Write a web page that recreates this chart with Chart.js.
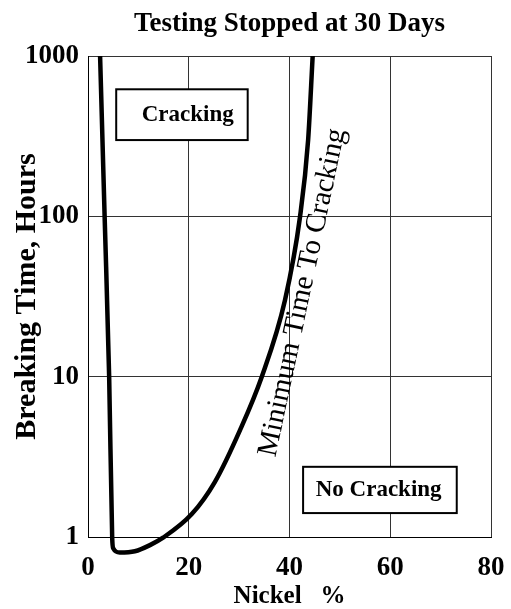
<!DOCTYPE html>
<html>
<head>
<meta charset="utf-8">
<script src="https://cdn.jsdelivr.net/npm/chart.js@4"></script>
<style>
  html, body { margin: 0; padding: 0; background: #fff; }
  #wrap { width: 511px; height: 609px; }
</style>
</head>
<body>
<div id="wrap"><canvas id="chart" width="511" height="609"></canvas></div>
<script>
// curve: nickel % vs breaking time (hours)
const nickel = [2.4, 3.3, 4.2, 4.8, 5.0, 6.3, 9.3, 12.3, 14.9, 20.6, 25.2, 30.2, 34.5, 39.1, 42.1, 43.7, 44.6];
const hours = [1000, 100, 10, 1.0, 0.85, 0.8, 0.815, 0.89, 0.99, 1.39, 2.21, 4.66, 10, 30, 100, 300, 1000];
const xTicks = [0, 20, 40, 60, 80];
const yTicks = [1, 10, 100, 1000];

const serif = "'Liberation Serif', 'Times New Roman', serif";

// text boxes / curve label drawn on top, placed in data units
const annotations = {
  id: 'annotations',
  afterDatasetsDraw(chart) {
    const { ctx, scales: { x, y } } = chart;
    ctx.save();
    ctx.strokeStyle = '#000';
    ctx.fillStyle = '#000';
    ctx.lineWidth = 2;

    function box(x0, x1, y0, y1, label, tx, ty) {
      const left = x.getPixelForValue(x0), right = x.getPixelForValue(x1);
      const top = y.getPixelForValue(y0), bottom = y.getPixelForValue(y1);
      ctx.fillStyle = '#fff';
      ctx.fillRect(left, top, right - left, bottom - top);
      ctx.strokeRect(left, top, right - left, bottom - top);
      ctx.fillStyle = '#000';
      ctx.font = 'bold 23px ' + serif;
      ctx.textAlign = 'center';
      ctx.textBaseline = 'middle';
      ctx.fillText(label, x.getPixelForValue(tx), y.getPixelForValue(ty));
    }
    box(5.6, 31.7, 620, 299, 'Cracking', 19.8, 427);
    box(42.7, 73.2, 2.74, 1.41, 'No Cracking', 57.7, 1.97);

    ctx.translate(x.getPixelForValue(42.6), y.getPixelForValue(33.5));
    ctx.rotate(-78 * Math.PI / 180);
    ctx.font = '29px ' + serif;
    ctx.textAlign = 'center';
    ctx.textBaseline = 'middle';
    ctx.fillText('Minimum Time To Cracking', 0, 0);
    ctx.restore();
  }
};

new Chart(document.getElementById('chart'), {
  type: 'line',
  data: {
    datasets: [{
      data: nickel.map((n, i) => ({ x: n, y: hours[i] })),
      borderColor: '#000',
      borderWidth: 4.5,
      pointRadius: 0,
      cubicInterpolationMode: 'monotone',
      clip: false
    }]
  },
  options: {
    responsive: false,
    animation: false,
    layout: { padding: { left: 0, right: 20, top: 0, bottom: 0 } },
    plugins: {
      legend: { display: false },
      tooltip: { enabled: false },
      title: {
        display: true,
        fullSize: false,
        text: 'Testing Stopped at 30 Days',
        color: '#000',
        font: { family: serif, size: 27, weight: 'bold', lineHeight: 1 },
        padding: { top: 11, bottom: 18 }
      }
    },
    scales: {
      x: {
        type: 'linear',
        min: 0,
        max: 80,
        afterBuildTicks: s => { s.ticks = xTicks.map(v => ({ value: v })); },
        afterFit: s => { s.height = 72; s.paddingLeft = 0; s.paddingRight = 0; },
        ticks: {
          color: '#000',
          padding: 15,
          font: { family: serif, size: 27, weight: 'bold' }
        },
        grid: { color: '#333', lineWidth: 1, drawTicks: false },
        border: { color: '#000', width: 1 },
        title: {
          display: true,
          text: 'Nickel   %',
          color: '#000',
          font: { family: serif, size: 25, weight: 'bold', lineHeight: 1 },
          padding: { top: 0, bottom: 0 }
        }
      },
      y: {
        type: 'logarithmic',
        min: 1,
        max: 1000,
        afterBuildTicks: s => { s.ticks = yTicks.map(v => ({ value: v })); },
        afterFit: s => { s.width = 88; },
        ticks: {
          color: '#000',
          padding: 9,
          font: { family: serif, size: 27, weight: 'bold' },
          callback: v => String(v)
        },
        grid: { color: '#333', lineWidth: 1, drawTicks: false },
        border: { color: '#000', width: 1 },
        title: {
          display: true,
          text: 'Breaking Time, Hours',
          color: '#000',
          font: { family: serif, size: 30, weight: 'bold', lineHeight: 1 },
          padding: { top: 12, bottom: 0 }
        }
      }
    }
  },
  plugins: [annotations]
});
</script>
</body>
</html>
